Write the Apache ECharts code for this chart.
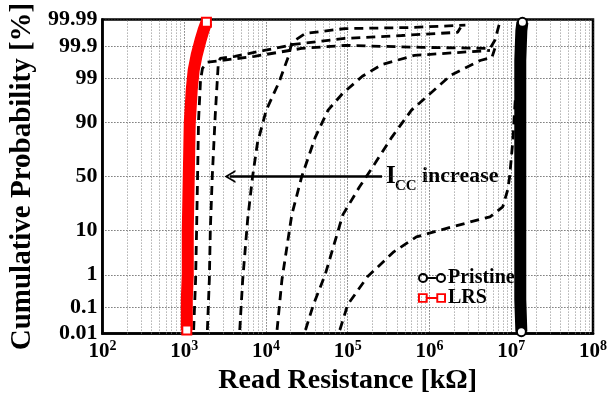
<!DOCTYPE html>
<html style="height: 100%">
<head>
    <meta charset="UTF-8">
    <title>Read Resistance CDF</title>
    <script src="https://cdn.jsdelivr.net/npm/echarts@6/dist/echarts.min.js"></script>
</head>
<body style="height: 100%; margin: 0; background: #fff">
    <div id="main" style="width: 610px; height: 400px;"></div>
    <script>
        // data: [read resistance kOhm, cumulative probability %]
        var lrsData = [[1077, 0.014], [1077, 0.18], [1107, 1.0], [1107, 10.3], [1138, 49.5], [1170, 89.7],
            [1236, 97.94], [1306, 99.40], [1419, 99.794], [1585, 99.937], [1722, 99.973], [1871, 99.987]];
        var pristineData = [[1.33e7, 0.012], [1.29e7, 0.18], [1.29e7, 49.5], [1.29e7, 99.7], [1.33e7, 99.973], [1.37e7, 99.987]];

        var curve1 = [[1306, 0.014], [1380, 0.73], [1419, 10.3], [1459, 50.5], [1500, 90.9], [1585, 98.87],
            [1675, 99.48], [1923, 99.66], [7244, 99.778], [27290, 99.879], [92040, 99.905], [7.94e5, 99.889],
            [5.5e6, 99.879], [6.31e6, 99.937], [7.24e6, 99.987]];
        var curve2 = [[1923, 0.014], [2032, 0.73], [2089, 10.3], [2208, 50.5], [2399, 92.7], [2606, 99.58],
            [2754, 99.743], [4169, 99.778], [9550, 99.859], [21880, 99.912], [92040, 99.946], [4.57e5, 99.958],
            [2.21e6, 99.968], [2.4e6, 99.979]];
        var curve3 = [[4786, 0.014], [5200, 0.73], [5970, 15.2], [6855, 49.5], [7870, 78.5], [10090, 94.2],
            [14450, 98.72], [19050, 99.794], [20700, 99.925], [30480, 99.965], [92040, 99.977], [5.55e5, 99.979],
            [2.75e6, 99.983]];
        var curve4 = [[13680, 0.014], [15700, 0.73], [20700, 18.2], [27290, 49.5], [40180, 82.5], [57540, 94.2],
            [87100, 97.57], [1.51e5, 99.12], [2.63e5, 99.60], [6.55e5, 99.794], [2.4e6, 99.836], [5.5e6, 99.859]];
        var curve5 = [[30480, 0.014], [38020, 0.12], [52970, 1.0], [87100, 18.2], [1.39e5, 40.2], [2.17e5, 62.5],
            [3.47e5, 82.5], [6.03e5, 94.2], [1.82e6, 99.17], [4.17e6, 99.70], [5.81e6, 99.761], [6.31e6, 99.879]];
        var curve6 = [[80170, 0.014], [1.0e5, 0.12], [1.74e5, 0.88], [3.66e5, 3.73], [6.92e5, 7.65], [1.38e6, 10.3],
            [3.16e6, 14.1], [5.5e6, 17.0], [7.87e6, 23.6], [9.04e6, 37.5], [9.55e6, 49.5], [1.04e7, 78.5],
            [1.1e7, 94.2], [1.13e7, 97.3]];

        var xTicks = [1e2, 1e3, 1e4, 1e5, 1e6, 1e7, 1e8];
        var yTickLabels = ['0.01', '0.1', '1', '10', '50', '90', '99', '99.9', '99.99'];
        var arrowFrom = [2.63e5, 50];
        var arrowTo = [3631, 50];

        // inverse normal CDF (Acklam)
        function probit(p) {
            var a = [-3.969683028665376e+01, 2.209460984245205e+02, -2.759285104469687e+02, 1.383577518672690e+02, -3.066479806614716e+01, 2.506628277459239e+00];
            var b = [-5.447609879822406e+01, 1.615858368580409e+02, -1.556989798598866e+02, 6.680131188771972e+01, -1.328068155288572e+01];
            var c = [-7.784894002430293e-03, -3.223964580411365e-01, -2.400758277161838e+00, -2.549732539343734e+00, 4.374664141464968e+00, 2.938163982698783e+00];
            var d = [7.784695709041462e-03, 3.224671290700398e-01, 2.445134137142996e+00, 3.754408661907416e+00];
            var pl = 0.02425, q, r;
            if (p < pl) {
                q = Math.sqrt(-2 * Math.log(p));
                return (((((c[0] * q + c[1]) * q + c[2]) * q + c[3]) * q + c[4]) * q + c[5]) / ((((d[0] * q + d[1]) * q + d[2]) * q + d[3]) * q + 1);
            }
            if (p > 1 - pl) {
                q = Math.sqrt(-2 * Math.log(1 - p));
                return -(((((c[0] * q + c[1]) * q + c[2]) * q + c[3]) * q + c[4]) * q + c[5]) / ((((d[0] * q + d[1]) * q + d[2]) * q + d[3]) * q + 1);
            }
            q = p - 0.5; r = q * q;
            return (((((a[0] * r + a[1]) * r + a[2]) * r + a[3]) * r + a[4]) * r + a[5]) * q / (((((b[0] * r + b[1]) * r + b[2]) * r + b[3]) * r + b[4]) * r + 1);
        }
        function toXY(arr) {
            return arr.map(function (d) { return [d[0], probit(d[1] / 100)]; });
        }

        var yTickValues = yTickLabels.map(function (s) { return probit(parseFloat(s) / 100); });
        var yMin = probit(0.0001), yMax = probit(0.9999);

        // minor vertical grid lines at 2..9 x 10^k
        var minorLines = [];
        for (var k = 2; k < 8; k++) {
            for (var m = 2; m <= 9; m++) {
                minorLines.push({ xAxis: m * Math.pow(10, k) });
            }
        }

        var serif = "'Liberation Serif', 'Times New Roman', serif";
        var myChart = echarts.init(document.getElementById('main'));

        function dashed(data) {
            return {
                type: 'line',
                data: toXY(data),
                symbol: 'none',
                silent: true,
                lineStyle: { color: '#000', width: 2.8, type: [9, 6] },
                z: 3
            };
        }
        function endSymbol(sym) {
            return function (value, params) {
                return (params.dataIndex === 0 || value[1] > 3.6) ? sym : 'none';
            };
        }

        var series = [
            dashed(curve1), dashed(curve2), dashed(curve3),
            dashed(curve4), dashed(curve5), dashed(curve6),
            {
                name: 'LRS',
                type: 'line',
                data: toXY(lrsData),
                symbol: endSymbol('rect'),
                symbolSize: 9,
                lineStyle: { color: '#ff0000', width: 12 },
                itemStyle: { color: '#fff', borderColor: '#ff0000', borderWidth: 2 },
                z: 5
            },
            {
                name: 'Pristine',
                type: 'line',
                data: toXY(pristineData),
                symbol: endSymbol('circle'),
                symbolSize: 9,
                lineStyle: { color: '#000', width: 12 },
                itemStyle: { color: '#fff', borderColor: '#000', borderWidth: 2 },
                z: 5
            }
        ];
        // grid lines and arrow
        series[0].markLine = {
            silent: true, symbol: 'none', animation: false,
            label: { show: false },
            lineStyle: { color: '#888', width: 1, type: [1, 2] },
            data: minorLines,
            z: 1
        };
        series[1].markLine = {
            silent: true, animation: false,
            symbol: ['none', 'path://M5,0 L10,12 L8.4,12 L5,3.6 L1.6,12 L0,12 Z'],
            symbolSize: [13, 11],
            label: { show: false },
            lineStyle: { color: '#000', width: 2.5, type: 'solid' },
            data: [[{ coord: [arrowFrom[0], probit(arrowFrom[1] / 100)] }, { coord: [arrowTo[0], probit(arrowTo[1] / 100)] }]]
        };

        var ringIcon = 'path://M0.5,5 A4.5,4.5 0 1,1 9.5,5 A4.5,4.5 0 1,1 0.5,5 Z M2.3,5 A2.7,2.7 0 1,0 7.7,5 A2.7,2.7 0 1,0 2.3,5 Z ' +
            'M9.5,4.1 L16.5,4.1 L16.5,5.9 L9.5,5.9 Z ' +
            'M16.5,5 A4.5,4.5 0 1,1 25.5,5 A4.5,4.5 0 1,1 16.5,5 Z M18.3,5 A2.7,2.7 0 1,0 23.7,5 A2.7,2.7 0 1,0 18.3,5 Z';
        var squareIcon = 'path://M0,0 L9,0 L9,9 L0,9 Z M1.8,1.8 L1.8,7.2 L7.2,7.2 L7.2,1.8 Z ' +
            'M9,3.6 L17,3.6 L17,5.4 L9,5.4 Z ' +
            'M17,0 L26,0 L26,9 L17,9 Z M18.8,1.8 L18.8,7.2 L24.2,7.2 L24.2,1.8 Z';

        var option = {
            animation: false,
            backgroundColor: '#fff',
            grid: {
                left: 95, right: 15, top: 19, bottom: 66,
                show: true, borderColor: '#000', borderWidth: 2.5, backgroundColor: 'transparent'
            },
            legend: {
                orient: 'vertical',
                left: 413, top: 263,
                itemWidth: 28, itemHeight: 11, itemGap: 0,
                textStyle: { fontFamily: serif, fontWeight: 'bold', fontSize: 20, color: '#000', padding: [0, 0, 0, -3] },
                data: [
                    { name: 'Pristine', icon: ringIcon, itemStyle: { color: '#000', borderWidth: 0 } },
                    { name: 'LRS', icon: squareIcon, itemStyle: { color: '#ff0000', borderWidth: 0 } }
                ]
            },
            xAxis: {
                type: 'log',
                logBase: 10,
                min: 1e2, max: 1e8,
                name: 'Read Resistance [kΩ]',
                nameLocation: 'middle',
                nameGap: 29,
                nameTextStyle: { fontFamily: serif, fontWeight: 'bold', fontSize: 28, color: '#000' },
                axisLine: { show: true, onZero: false, lineStyle: { color: '#000', width: 2.5 } },
                axisTick: { show: false, customValues: xTicks },
                axisLabel: {
                    customValues: xTicks,
                    margin: 6,
                    formatter: function (v) {
                        return '{b|10}{e|' + Math.round(Math.log10(v)) + '}';
                    },
                    rich: {
                        b: { fontFamily: serif, fontWeight: 'bold', fontSize: 21, color: '#000', lineHeight: 24 },
                        e: { fontFamily: serif, fontWeight: 'bold', fontSize: 14, color: '#000', verticalAlign: 'top', lineHeight: 14 }
                    }
                },
                splitLine: { show: true, lineStyle: { color: '#333', width: 1, type: [1, 2] } }
            },
            yAxis: {
                type: 'value',
                min: yMin, max: yMax,
                name: 'Cumulative Probability [%]',
                nameLocation: 'middle',
                nameRotate: 90,
                nameGap: 60,
                nameTextStyle: { fontFamily: serif, fontWeight: 'bold', fontSize: 29, color: '#000' },
                axisLine: { show: true, onZero: false, lineStyle: { color: '#000', width: 2.5 } },
                axisTick: { show: false, customValues: yTickValues },
                axisLabel: {
                    customValues: yTickValues,
                    margin: 5,
                    fontFamily: serif, fontWeight: 'bold', fontSize: 22, color: '#000',
                    formatter: function (v) {
                        var best = 0;
                        for (var i = 1; i < yTickValues.length; i++) {
                            if (Math.abs(yTickValues[i] - v) < Math.abs(yTickValues[best] - v)) best = i;
                        }
                        return yTickLabels[best];
                    }
                },
                splitLine: { show: true, lineStyle: { color: '#333', width: 1, type: [1, 2] } }
            },
            graphic: [
                { type: 'text', left: 386, top: 164, style: { text: 'I', font: 'bold 25px ' + serif, fill: '#000' } },
                { type: 'text', left: 395, top: 179, style: { text: 'CC', font: 'bold 15px ' + serif, fill: '#000' } },
                { type: 'text', left: 422, top: 165, style: { text: 'increase', font: 'bold 22px ' + serif, fill: '#000' } }
            ],
            series: series
        };

        myChart.setOption(option);
    </script>
</body>
</html>
